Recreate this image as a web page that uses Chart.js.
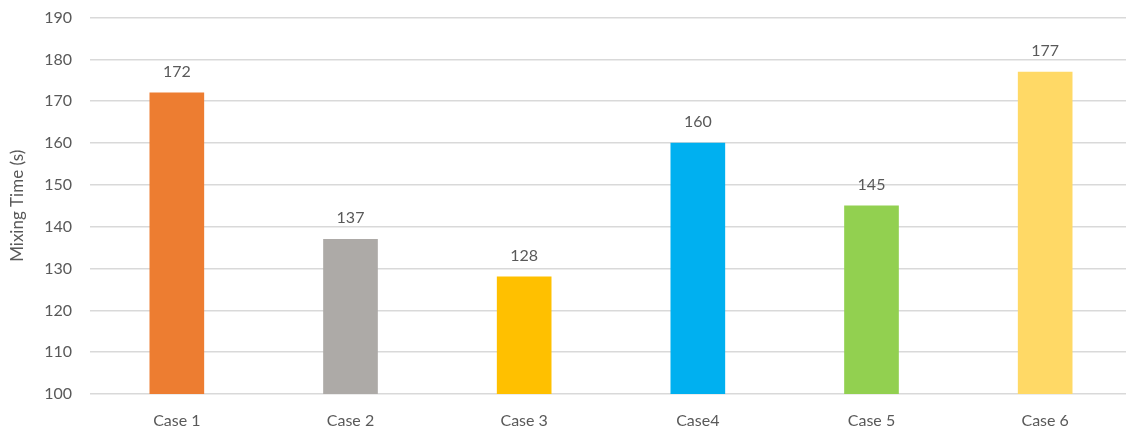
<!DOCTYPE html>
<html>
<head>
<meta charset="utf-8">
<script src="https://cdn.jsdelivr.net/npm/chart.js@4/dist/chart.umd.min.js"></script>
<style>
  html, body { margin: 0; padding: 0; background: #fff; overflow: hidden; }
  #wrap { width: 1140px; height: 442px; position: relative; top: -10px; }
</style>
</head>
<body>
<div id="wrap"><canvas id="c"></canvas></div>
<script>
const categories = ["Case 1", "Case 2", "Case 3", "Case4", "Case 5", "Case 6"];
const mixingTime = [172, 137, 128, 160, 145, 177];
const barColors = ["#ED7D31", "#ADAAA7", "#FFC000", "#00B0F0", "#92D050", "#FFD966"];
const yMin = 100, yMax = 190, yStep = 10;
const yTitle = "Mixing Time (s)";

const FONT = "Lato, 'Open Sans', sans-serif";
const TXT = "#595959";

const valueLabels = {
  id: "valueLabels",
  afterDatasetsDraw(chart) {
    const ctx = chart.ctx;
    const meta = chart.getDatasetMeta(0);
    ctx.save();
    ctx.font = "16px " + FONT;
    ctx.fillStyle = TXT;
    ctx.textAlign = "center";
    ctx.textBaseline = "middle";
    meta.data.forEach((bar, i) => {
      ctx.fillText(String(chart.data.datasets[0].data[i]), bar.x, bar.y - 21);
    });
    ctx.restore();
  }
};

new Chart(document.getElementById("c"), {
  type: "bar",
  data: {
    labels: categories,
    datasets: [{
      data: mixingTime,
      backgroundColor: barColors,
      borderWidth: 0,
      barThickness: 54
    }]
  },
  options: {
    responsive: true,
    maintainAspectRatio: false,
    animation: false,
    layout: { padding: { top: 8, right: 8, left: 0, bottom: 0 } },
    plugins: { legend: { display: false }, tooltip: { enabled: false } },
    scales: {
      x: {
        grid: { display: false, drawTicks: false },
        border: { display: false },
        ticks: { color: TXT, font: { family: FONT, size: 16 }, padding: 17 },
        afterFit(scale) { scale.height = 38; }
      },
      y: {
        min: yMin, max: yMax,
        grid: { color: "#D9D9D9", lineWidth: 1.5, drawTicks: false },
        border: { display: false },
        ticks: { stepSize: yStep, color: TXT, font: { family: FONT, size: 16 }, padding: 18 },
        title: { display: true, text: yTitle, color: TXT, font: { family: FONT, size: 17 }, padding: { top: 7, bottom: 0 } },
        afterFit(scale) { scale.width = 90; }
      }
    }
  },
  plugins: [valueLabels]
});
</script>
</body>
</html>
